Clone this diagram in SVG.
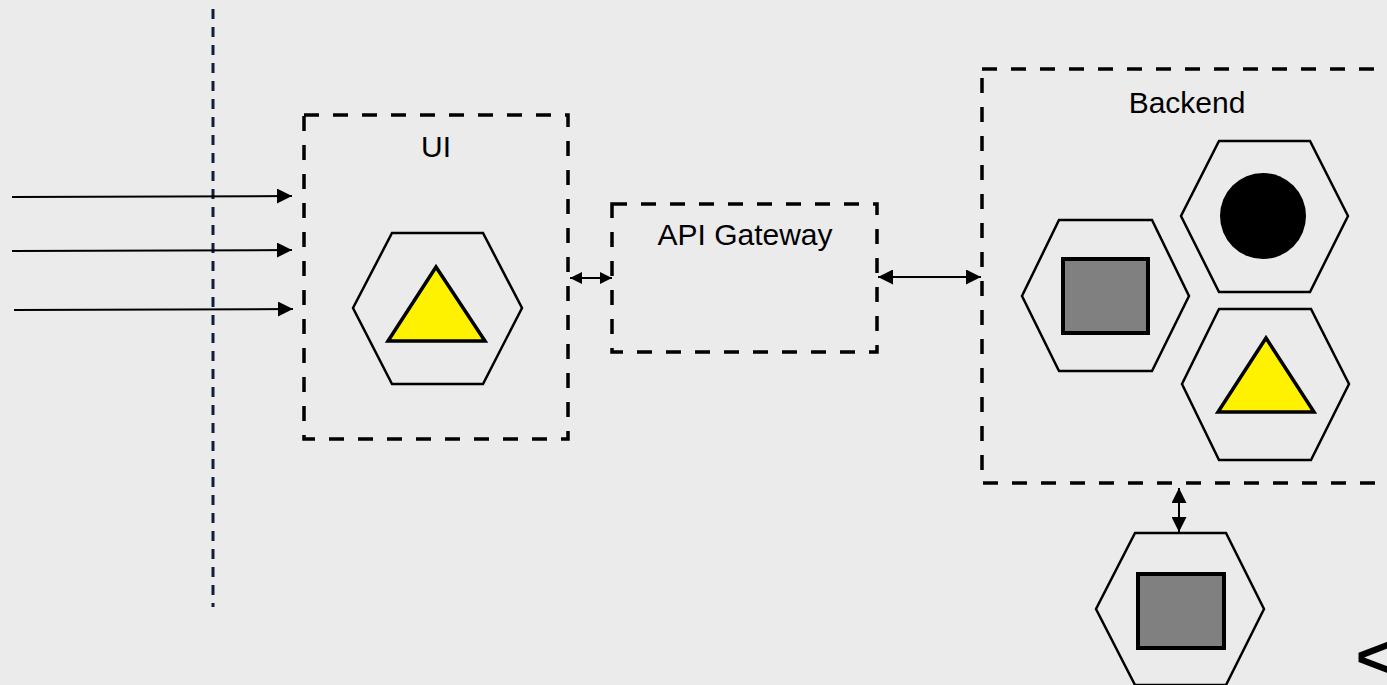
<svg xmlns="http://www.w3.org/2000/svg" width="1387" height="685" viewBox="0 0 1387 685">
<style>
.box{fill:none;stroke:#000;stroke-width:3.5;stroke-dasharray:15 14}
.hex{fill:none;stroke:#000;stroke-width:2.5;stroke-linejoin:miter}
.tri{fill:#FFF200;stroke:#000;stroke-width:3.5}
.sq{fill:#808080;stroke:#000;stroke-width:4}
.lbl{font-family:"Liberation Sans",Arial,sans-serif;font-size:30px;fill:#000;text-anchor:middle}
.conn{stroke:#000;stroke-width:2;fill:none}
</style>
<defs>
<marker id="ah" viewBox="0 0 10 10" refX="10" refY="5" markerWidth="15" markerHeight="15" markerUnits="userSpaceOnUse" orient="auto-start-reverse">
<path d="M0,0 L10,5 L0,10 Z" fill="#000"/>
</marker>
<marker id="ahs" viewBox="0 0 10 10" refX="10" refY="5" markerWidth="12" markerHeight="13" markerUnits="userSpaceOnUse" orient="auto-start-reverse">
<path d="M0,0 L10,5 L0,10 Z" fill="#000"/>
</marker>
</defs>
<rect width="1387" height="685" fill="#EBEBEB"/>
<line x1="213" y1="9" x2="213" y2="607" stroke="#0f1f3a" stroke-width="3" stroke-dasharray="10 8"/>
<g id="connectors">
<line class="conn" x1="12" y1="197" x2="292" y2="196" marker-end="url(#ah)"/>
<line class="conn" x1="12" y1="251" x2="292" y2="250" marker-end="url(#ah)"/>
<line class="conn" x1="14" y1="310" x2="293" y2="309" marker-end="url(#ah)"/>
<line class="conn" x1="570" y1="278" x2="612" y2="278" marker-start="url(#ahs)" marker-end="url(#ahs)"/>
<line class="conn" x1="878" y1="277" x2="981" y2="277" marker-start="url(#ah)" marker-end="url(#ah)"/>
<line class="conn" x1="1179" y1="488" x2="1179" y2="532" marker-start="url(#ah)" marker-end="url(#ah)"/>
</g>
<g id="ui">
<rect class="box" x="304" y="115" width="264" height="324"/>
<text class="lbl" x="436" y="157">UI</text>
<polygon class="hex" points="392,233 483,233 522,308 483,384 392,384 353,308"/>
<polygon class="tri" points="436,267 388,341 485,341"/>
</g>
<g id="api-gateway">
<rect class="box" x="612" y="204" width="265" height="148"/>
<text class="lbl" x="745" y="245">API Gateway</text>
</g>
<g id="backend">
<rect class="box" x="982" y="69" width="410" height="414"/>
<text class="lbl" x="1187" y="113">Backend</text>
<g id="svc-square">
<polygon class="hex" points="1059,220 1152,220 1189,296 1152,371 1059,371 1022,296"/>
<rect class="sq" x="1063" y="259" width="85" height="74"/>
</g>
<g id="svc-circle">
<polygon class="hex" points="1219,141 1310,141 1348,216 1310,292 1219,292 1181,216"/>
<circle cx="1263" cy="216" r="43" fill="#000"/>
</g>
<g id="svc-triangle">
<polygon class="hex" points="1219,309 1311,309 1349,384 1311,460 1219,460 1182,384"/>
<polygon class="tri" points="1266,338 1218,412 1314,412"/>
</g>
</g>
<g id="external-store">
<polygon class="hex" points="1135,533 1226,533 1264,609 1226,685 1135,685 1096,609"/>
<rect class="sq" x="1138" y="574" width="86" height="74"/>
</g>
<text x="1356" y="677" font-family="Liberation Sans,Arial,sans-serif" font-size="60" font-weight="bold" fill="#000">&lt;</text>
</svg>
